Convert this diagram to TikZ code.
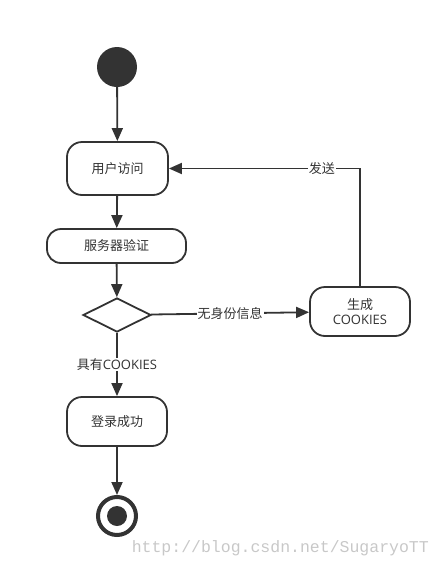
\documentclass[tikz,border=0pt]{standalone}
\usepackage{fontspec}
\setmainfont{Open Sans}
\newfontfamily\cjk{Noto Sans CJK SC}
\newfontfamily\wmfont{Liberation Mono}
\usetikzlibrary{arrows.meta,shapes.geometric}
\definecolor{ink}{HTML}{333333}
\definecolor{wm}{HTML}{C8C8C8}
\tikzset{
  statebox/.style={draw=ink, line width=1.8pt, rounded corners=15pt, fill=white, text=ink, font=\fontsize{13}{15}\selectfont, align=center, inner sep=0pt},
  flow/.style={draw=ink, line width=1.8pt, -{Triangle[length=13pt,width=11pt]}},
  lab/.style={fill=white, text=ink, font=\fontsize{13}{15}\selectfont, inner sep=1pt},
}
\begin{document}
\begin{tikzpicture}[x=1pt,y=-1pt]
\useasboundingbox (0,0) rectangle (441,568);
\node[circle, fill=ink, minimum size=40pt, inner sep=0pt] (start) at (117,67) {};
\node[statebox, minimum width=101pt, minimum height=53pt] (visit) at (117.5,168.5) {\cjk 用户访问};
\node[statebox, minimum width=139pt, minimum height=34pt, rounded corners=14pt] (verify) at (116.5,246) {\cjk 服务器验证};
\node[diamond, draw=ink, line width=1.8pt, fill=white, minimum width=68pt, minimum height=34pt, inner sep=0pt, shape aspect=2] (dec) at (117,315) {};
\node[statebox, minimum width=100pt, minimum height=49pt] (gen) at (360,311.5) {{\cjk 生成}\\COOKIES};
\node[statebox, minimum width=100pt, minimum height=49pt] (login) at (117,421.5) {\cjk 登录成功};
\node[circle, draw=ink, line width=4pt, minimum size=38pt, inner sep=0pt] (end) at (117,516) {};
\node[circle, fill=ink, minimum size=20pt, inner sep=0pt] (endin) at (end.center) {};
\draw[flow] (start) -- (visit);
\draw[flow] (visit) -- (verify);
\draw[flow] (verify) -- (dec);
\draw[flow] (dec) -- node[lab] {{\cjk 具有}COOKIES} (login);
\draw[flow] (dec) -- node[lab] {\cjk 无身份信息} (gen);
\draw[flow] (gen.north) |- node[lab, pos=0.6] {\cjk 发送} (visit.east);
\draw[flow] (login) -- (end);
\node[text=wm, font=\wmfont\fontsize{16.5}{18}\selectfont, inner sep=0pt, anchor=east] (wmark) at (429,548) {http://blog.csdn.net/SugaryoTT};
\end{tikzpicture}
\end{document}
